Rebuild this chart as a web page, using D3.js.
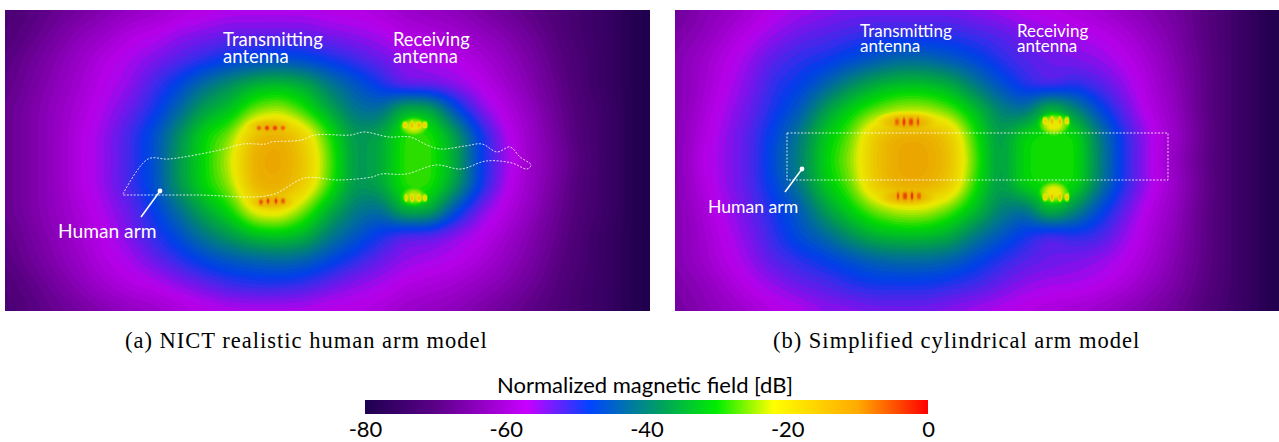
<!DOCTYPE html>
<html><head><meta charset="utf-8">
<script src="https://cdn.jsdelivr.net/npm/d3@7"></script>
<style>html,body{margin:0;padding:0;background:#fff;overflow:hidden}svg{display:block}</style>
</head><body><svg id="c" width="1279" height="442"></svg>
<script>
// colour scale
const legendTicks = [-80,-60,-40,-20,0];
const legendStops = [-80,-70,-57,-48,-38,-30,-22,-10,0];
const legendColors = ["#1e0050","#5c0088","#c800ff","#0044ff","#00a060","#00ee00","#ffff00","#ffaa00","#ff0000"];

// field (a): dB on a regular sample grid, rows top to bottom
const fieldA = [
[-72,-70,-68,-66,-64,-62,-61,-59,-58,-57,-57,-57,-57,-58,-58,-59,-61,-62,-63,-65,-67,-69,-71,-73,-75,-78,-80],
[-71,-69,-66,-63,-61,-58,-57,-55,-54,-53,-53,-53,-53,-54,-55,-56,-58,-59,-60,-62,-64,-67,-70,-73,-75,-78,-80],
[-70,-67,-64,-61,-58,-56,-54,-52,-50,-48,-47,-46,-47,-49,-51,-53,-55,-56,-57,-59,-62,-65,-69,-72,-75,-78,-80],
[-69,-66,-63,-60,-57,-55,-51,-47,-42,-38,-34,-33,-35,-41,-45,-49,-54,-54,-55,-57,-60,-64,-68,-72,-75,-78,-80],
[-68,-65,-62,-59,-56,-53,-49,-43,-36,-33,-26,-24,-29,-36,-42,-43,-33,-34,-46,-54,-58,-62,-67,-71,-74,-78,-80],
[-68,-65,-62,-58,-55,-51,-46,-38,-30,-26,-14,-12,-18,-29,-38,-36,-28,-28,-36,-48,-56,-61,-66,-71,-74,-78,-80],
[-68,-65,-62,-58,-55,-51,-46,-37,-30,-23,-12,-11,-16,-27,-38,-36,-28,-28,-35,-48,-55,-61,-65,-70,-74,-78,-80],
[-68,-65,-62,-58,-55,-51,-46,-37,-30,-25,-13,-12,-17,-28,-38,-36,-28,-28,-36,-48,-56,-61,-66,-71,-74,-78,-80],
[-68,-65,-62,-59,-56,-53,-48,-42,-35,-30,-20,-19,-26,-35,-41,-43,-33,-34,-46,-54,-58,-62,-67,-71,-74,-78,-80],
[-69,-66,-63,-60,-57,-54,-50,-46,-41,-37,-33,-32,-34,-41,-45,-49,-53,-53,-55,-57,-60,-64,-68,-72,-75,-78,-80],
[-70,-67,-64,-61,-58,-56,-53,-50,-47,-45,-44,-43,-44,-47,-50,-53,-55,-56,-57,-59,-62,-65,-69,-72,-75,-78,-80],
[-71,-69,-66,-63,-60,-58,-57,-55,-53,-51,-50,-50,-51,-53,-55,-56,-58,-59,-60,-62,-64,-67,-70,-73,-75,-78,-80],
[-72,-70,-68,-66,-64,-62,-61,-59,-58,-57,-57,-57,-57,-58,-58,-59,-61,-62,-63,-65,-67,-69,-71,-73,-75,-78,-80]
];
// field (b)
const fieldB = [
[-67,-64,-62,-60,-57,-56,-55,-54,-54,-54,-54,-54,-55,-56,-57,-58,-59,-60,-62,-64,-66,-69,-72,-76,-79],
[-65,-63,-60,-57,-55,-53,-52,-51,-50,-50,-50,-50,-51,-52,-54,-55,-56,-57,-59,-62,-65,-69,-72,-76,-79],
[-64,-61,-58,-55,-52,-50,-49,-47,-45,-43,-43,-45,-47,-50,-52,-53,-54,-55,-57,-60,-64,-68,-72,-76,-79],
[-64,-61,-57,-54,-50,-48,-44,-39,-35,-33,-33,-35,-41,-46,-50,-53,-50,-52,-55,-59,-63,-68,-72,-76,-79],
[-64,-60,-56,-53,-49,-45,-37,-31,-27,-24,-24,-27,-33,-40,-43,-31,-39,-47,-53,-58,-62,-68,-72,-76,-79],
[-64,-59,-55,-52,-47,-41,-32,-27,-16,-12,-12,-16,-29,-38,-30,-29,-29,-41,-50,-56,-61,-67,-72,-76,-79],
[-64,-58,-55,-52,-46,-40,-31,-25,-16,-11,-11,-15,-27,-38,-30,-29,-29,-40,-50,-56,-62,-68,-72,-76,-79],
[-64,-59,-55,-52,-47,-41,-32,-27,-16,-12,-12,-16,-29,-38,-30,-29,-29,-41,-50,-56,-61,-67,-72,-76,-79],
[-64,-60,-56,-53,-49,-45,-37,-31,-26,-23,-23,-27,-33,-40,-43,-31,-39,-47,-53,-58,-62,-68,-72,-76,-79],
[-64,-61,-57,-54,-50,-46,-43,-38,-34,-33,-33,-35,-41,-45,-49,-53,-50,-51,-55,-59,-63,-68,-72,-76,-79],
[-64,-61,-58,-55,-52,-50,-48,-46,-44,-43,-43,-44,-47,-50,-52,-53,-54,-55,-57,-60,-64,-68,-72,-76,-79],
[-65,-63,-60,-57,-55,-53,-52,-50,-49,-49,-49,-50,-51,-53,-55,-56,-56,-57,-59,-62,-65,-69,-72,-76,-79],
[-66,-64,-62,-60,-58,-57,-55,-55,-54,-54,-54,-55,-56,-57,-58,-59,-60,-61,-63,-65,-67,-70,-73,-76,-79]
];
// local peaks near the antenna feeds: u, v, peak dB, half width, half height, fall-off dB
const peaksA = [
[266,118,-13,15,6,3],[254,118,-3,2.4,3.5,13],[262,118,-1,2.4,3.5,13],[270,118,-1,2.4,3.5,13],[278,118,-3,2.4,3.5,13],
[267,191,-13,15,6,3],[256,192,-3,2.4,4.5,13],[263,191,-2,2.4,4.5,13],[271,191,-2,2.4,4.5,13],[278,191,-3,2.4,4.5,13],
[409,117,-22,15,10,9],[400,115,-15,2.2,4.5,13],[407,115,-13,2.2,4.5,13],[414,115,-13,2.2,4.5,13],[420,115,-15,2.2,4.5,13],
[409,186,-23,14,10,9],[401,188,-16,2.2,4.5,13],[407,188,-14,2.2,4.5,13],[414,188,-14,2.2,4.5,13],[420,188,-16,2.2,4.5,13]
];
const peaksB = [
[233,113,-12,18,6,3],[222,112,-3,2.2,6,13],[229,112,-1,2.2,6,13],[236,112,-1,2.2,6,13],[243,112,-3,2.2,6,13],
[233,186,-12,18,6,3],[223,186,-3,2.2,6,13],[230,186,-1,2.2,6,13],[237,186,-1,2.2,6,13],[244,186,-3,2.2,6,13],
[379,115,-21,15,11,9],[370,111,-15,2.2,5,13],[377,111,-13,2.2,5,13],[385,111,-13,2.2,5,13],[392,111,-15,2.2,5,13],
[379,182,-21,15,11,9],[370,187,-15,2.2,5,13],[377,187,-13,2.2,5,13],[385,187,-13,2.2,5,13],[392,187,-15,2.2,5,13]
];
// arm outline (a), in panel units
const armA = [[118,184],[143,149],[164,149],[215,140],[238,134],[261,134],[266,132],[297,130],[310,125],[346,125],[359,122],[384,127],[405,127],[422,135],[435,139],[460,136],[477,134],[492,142],[505,137],[515,147],[526,155],[522,159],[507,153],[481,151],[456,159],[431,155],[401,164],[376,164],[367,167],[333,170],[300,168],[266,185],[192,185],[118,185]];
// arm outline (b), in panel units
const armB = [[112,123],[493,123],[493,170],[112,170]];

const svg = d3.select("#c");
const color = d3.scaleLinear().domain(legendStops).range(legendColors).clamp(true);
const shade = 0.92;
const fieldColor = t => { const c = d3.rgb(color(t)); return d3.rgb(c.r * shade, c.g * shade, c.b * shade).formatHex(); };
const defs = svg.append("defs");

function panel(id, px, py, pw, ph, field, peaks, arm, closeArm) {
  const rows = field.length, cols = field[0].length;
  const u = d3.scaleLinear().domain([0, pw]).range([px, px + pw]);
  const v = d3.scaleLinear().domain([0, ph]).range([py, py + ph]);
  const cell = 2, pad = 10, step = 25;
  const W = Math.ceil(pw / cell) + 2 * pad, H = Math.ceil(ph / cell) + 2 * pad;
  const data = new Float64Array(W * H);
  const sample = (a, b) => {
    const c = Math.max(0, Math.min(cols - 1.001, a / step));
    const r = Math.max(0, Math.min(rows - 1.001, b / step));
    const c0 = Math.floor(c), r0 = Math.floor(r), fc = c - c0, fr = r - r0;
    return d3.interpolateNumber(
      d3.interpolateNumber(field[r0][c0], field[r0][c0 + 1])(fc),
      d3.interpolateNumber(field[r0 + 1][c0], field[r0 + 1][c0 + 1])(fc))(fr);
  };
  for (let j = 0; j < H; j++) for (let i = 0; i < W; i++)
    data[j * W + i] = sample((i + .5 - pad) * cell, (j + .5 - pad) * cell);
  d3.blur2({data, width: W, height: H}, 3);
  for (let j = 0; j < H; j++) for (let i = 0; i < W; i++) {
    const a = (i + .5 - pad) * cell, b = (j + .5 - pad) * cell;
    for (const [pu, pv, db, rx, ry, fall] of peaks) {
      const d = ((a - pu) / rx) ** 2 + ((b - pv) / ry) ** 2;
      data[j * W + i] = Math.max(data[j * W + i], db - fall * d);
    }
  }
  const levels = d3.range(-80, 0, 1);
  const contours = d3.contours().size([W, H]).thresholds(levels)(data);
  const path = d3.geoPath(d3.geoTransform({point(x, y) {
    this.stream.point(u((x - pad) * cell), v((y - pad) * cell));
  }}));
  defs.append("clipPath").attr("id", id).append("rect")
    .attr("x", px).attr("y", py).attr("width", pw).attr("height", ph);
  const g = svg.append("g").attr("clip-path", `url(#${id})`);
  g.append("rect").attr("x", px).attr("y", py).attr("width", pw).attr("height", ph).attr("fill", fieldColor(-80));
  g.selectAll("path").data(contours).join("path")
    .attr("d", path).attr("fill", d => fieldColor(d.value + .5));
  const line = d3.line().x(d => u(d[0])).y(d => v(d[1]))
    .curve(closeArm ? d3.curveLinearClosed : d3.curveCatmullRom.alpha(.5));
  svg.append("path").attr("d", line(arm)).attr("fill", "none")
    .attr("stroke", "#fff").attr("stroke-width", 1).attr("stroke-dasharray", "2,1.5").attr("opacity", .8);
}
panel("pa", 5, 10, 645, 301, fieldA, peaksA, armA, false);
panel("pb", 675, 10, 604, 301, fieldB, peaksB, armB, true);

const sans = "Lato, 'Open Sans', sans-serif", serif = "'Liberation Serif', serif";
function multi(x, y, lines, gap, size) {
  const t = svg.append("text").attr("x", x).attr("y", y).attr("font-size", size)
    .attr("fill", "#fff").attr("font-family", sans);
  lines.forEach((s, i) => t.append("tspan").attr("x", x).attr("y", y + i * gap).text(s));
}
multi(223, 46, ["Transmitting", "antenna"], 17, 18.5);
multi(393, 46, ["Receiving", "antenna"], 17, 18.3);
multi(58, 238, ["Human arm"], 0, 19.2);
multi(860, 37, ["Transmitting", "antenna"], 15, 17);
multi(1017, 37, ["Receiving", "antenna"], 15, 17);
multi(708, 213, ["Human arm"], 0, 17.6);
[[160,191,141,217],[802,169,785,192]].forEach(d => {
  svg.append("line").attr("x1", d[0]).attr("y1", d[1]).attr("x2", d[2]).attr("y2", d[3])
    .attr("stroke", "#fff").attr("stroke-width", 1.5);
  svg.append("circle").attr("cx", d[0]).attr("cy", d[1]).attr("r", 2.4).attr("fill", "#fff");
});
svg.append("text").attr("x", 125).attr("y", 348).attr("font-family", serif).attr("font-size", 22.5)
  .attr("letter-spacing", 1).text("(a) NICT realistic human arm model");
svg.append("text").attr("x", 773).attr("y", 348).attr("font-family", serif).attr("font-size", 22.5)
  .attr("letter-spacing", 1).text("(b) Simplified cylindrical arm model");

// legend
const lx = d3.scaleLinear().domain([-80, 0]).range([365, 928]);
const grad = defs.append("linearGradient").attr("id", "lg");
legendStops.forEach((s, i) => grad.append("stop").attr("offset", (s + 80) / 80).attr("stop-color", legendColors[i]));
svg.append("rect").attr("x", 365).attr("y", 400).attr("width", 563).attr("height", 14).attr("fill", "url(#lg)");
svg.append("text").attr("x", 645).attr("y", 393).attr("text-anchor", "middle").attr("font-family", sans)
  .attr("font-size", 22).attr("fill", "#000").text("Normalized magnetic field [dB]");
const ax = svg.append("g").attr("transform", "translate(0,414)")
  .call(d3.axisBottom(lx).tickValues(legendTicks).tickSize(0).tickPadding(3).tickFormat(d => String(d)));
ax.select(".domain").remove();
ax.selectAll("text").attr("font-family", sans).attr("font-size", 22).attr("fill", "#000").attr("dy", "0.9em");
</script></body></html>
